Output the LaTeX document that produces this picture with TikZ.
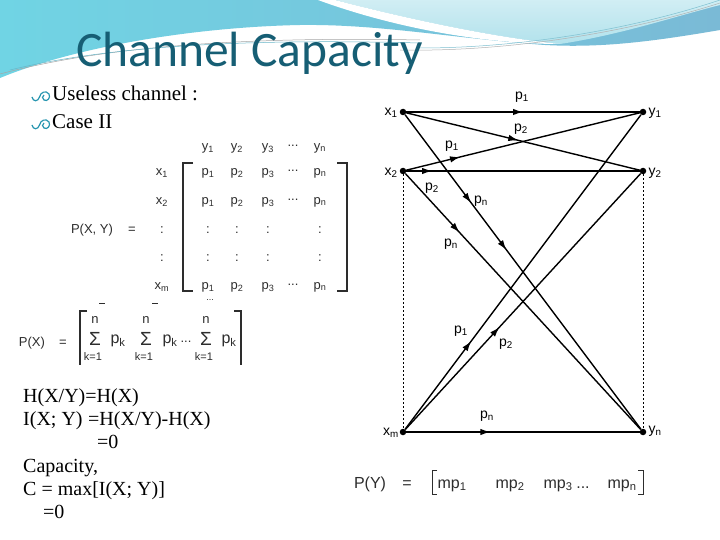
\documentclass[tikz,border=0pt]{standalone}
\usepackage{fontspec}
\setmainfont{Liberation Serif}
\newfontfamily\titolofont{Carlito}
\newfontfamily\grafofont{Liberation Sans}
\usetikzlibrary{arrows.meta,decorations.markings}

\definecolor{titolo}{RGB}{22,94,116}
\definecolor{ondablu}{RGB}{122,186,214}
\definecolor{ondaciano}{RGB}{112,212,228}
\definecolor{ondachiara}{RGB}{178,226,236}
\definecolor{simbolo}{RGB}{40,150,176}
\definecolor{grigiotesto}{RGB}{45,45,45}

\tikzset{
  freccia/.style={postaction={decorate},decoration={markings,
    mark=at position #1 with {\arrow{Latex[length=10pt,width=6.5pt]}}}},
  doppiafreccia/.style 2 args={postaction={decorate},decoration={markings,
    mark=at position #1 with {\arrow{Latex[length=10pt,width=6.5pt]}},
    mark=at position #2 with {\arrow{Latex[length=10pt,width=6.5pt]}}}}
}

\begin{document}
\begin{tikzpicture}[x=1pt,y=-1pt]

        % Stili del disegno
        \tikzstyle{punto}=[circle,fill=black,inner sep=0pt,minimum size=6.5pt]
        \tikzstyle{canale}=[line width=1.4pt]
        \tikzstyle{tratteggio}=[line width=0.7pt,dash pattern=on 2pt off 2pt]
        \tikzstyle{etichetta}=[font=\grafofont\fontsize{14}{16}\selectfont,inner sep=0pt]
        \tikzstyle{voce}=[font=\grafofont\fontsize{13}{15}\selectfont,text=grigiotesto,inner sep=0pt]
        \tikzstyle{somma}=[font=\grafofont\fontsize{16}{18}\selectfont,text=grigiotesto,inner sep=0pt]
        \tikzstyle{sigma}=[font=\grafofont\fontsize{19}{20}\selectfont,text=grigiotesto,inner sep=0pt]
        \tikzstyle{riga}=[font=\grafofont\fontsize{16}{19}\selectfont,text=grigiotesto,inner sep=0pt,anchor=base]
        \tikzstyle{testo}=[font=\fontsize{20}{24}\selectfont,anchor=base west,inner sep=0pt]
        \tikzstyle{parentesi}=[line width=1.3pt,grigiotesto]

        \useasboundingbox (0,0) rectangle (720,540);
        \fill[white] (0,0) rectangle (720,540);

        % Onde dell'intestazione
        \shade[left color=ondaciano,right color=ondablu] (0,0) -- (720,0) -- (720,30)
            .. controls (650,42) and (600,48) .. (545,45)
            .. controls (450,38) and (380,24) .. (300,25)
            .. controls (200,27) and (80,45) .. (0,78) -- cycle;
        \shade[top color=ondachiara!60!white,bottom color=ondachiara] (335,0)
            .. controls (420,22) and (500,38) .. (560,44)
            .. controls (620,35) and (680,15) .. (720,5) -- (720,0) -- cycle;
        \fill[white] (318,0) -- (335,0) .. controls (420,22) and (500,38) .. (560,44)
            .. controls (490,44) and (400,30) .. (318,0) -- cycle;
        \draw[black!35,line width=0.5pt] (0,74) .. controls (90,50) and (220,36) .. (420,40);
        \draw[simbolo!70,line width=0.5pt] (10,70) .. controls (100,48) and (230,38) .. (420,43);
        \draw[black!30,line width=0.5pt] (400,50) .. controls (500,52) and (620,35) .. (720,3);
        \draw[simbolo!60,line width=0.5pt] (420,48) .. controls (520,48) and (630,30) .. (720,0);

        % Titolo
        \node[font=\titolofont\fontsize{49.5}{56}\selectfont,text=titolo,anchor=base west,inner sep=0pt]
            (titolo) at (76,67) {Channel Capacity};

        % Elenco puntato
        \draw[simbolo,line width=1.2pt,shift={(32,95)}] (0,2) .. controls (1,7) and (6,7) .. (7.5,2)
            .. controls (8.5,-3) and (14,-5) .. (17,-1) .. controls (19,3) and (15,7) .. (12,5)
            .. controls (10,4) and (10,1) .. (12,0);
        \draw[simbolo,line width=1.2pt,shift={(32,123)}] (0,2) .. controls (1,7) and (6,7) .. (7.5,2)
            .. controls (8.5,-3) and (14,-5) .. (17,-1) .. controls (19,3) and (15,7) .. (12,5)
            .. controls (10,4) and (10,1) .. (12,0);
        \node[testo,font=\fontsize{21}{25}\selectfont] (inutile) at (52,101) {Useless channel :};
        \node[testo,font=\fontsize{21}{25}\selectfont] (caso) at (52,129) {Case II};

        % Matrice P(X, Y)
        \node[voce] (pxy) at (92,230) {P(X, Y)};
        \node[voce] (uguale1) at (132,230) {=};
        \node[voce] (cy1) at (208,148) {y\textsubscript{1}};
        \node[voce] (cy2) at (237,148) {y\textsubscript{2}};
        \node[voce] (cy3) at (268,148) {y\textsubscript{3}};
        \node[voce] (cyd) at (293,146) {...};
        \node[voce] (cyn) at (320,148) {y\textsubscript{n}};
        \node[voce] (rx1) at (162,173) {x\textsubscript{1}};
        \node[voce] (rx2) at (162,202) {x\textsubscript{2}};
        \node[voce] (rd1) at (162,230) {:};
        \node[voce] (rd2) at (162,258) {:};
        \node[voce] (rxm) at (162,287) {x\textsubscript{m}};
        \node[voce] (a11) at (208,173) {p\textsubscript{1}};
        \node[voce] (a12) at (237,173) {p\textsubscript{2}};
        \node[voce] (a13) at (268,173) {p\textsubscript{3}};
        \node[voce] (a1d) at (293,171) {...};
        \node[voce] (a1n) at (320,173) {p\textsubscript{n}};
        \node[voce] (a21) at (208,202) {p\textsubscript{1}};
        \node[voce] (a22) at (237,202) {p\textsubscript{2}};
        \node[voce] (a23) at (268,202) {p\textsubscript{3}};
        \node[voce] (a2d) at (293,200) {...};
        \node[voce] (a2n) at (320,202) {p\textsubscript{n}};
        \node[voce] (a31) at (208,230) {:};
        \node[voce] (a32) at (237,230) {:};
        \node[voce] (a33) at (268,230) {:};
        \node[voce] (a3n) at (320,230) {:};
        \node[voce] (a41) at (208,258) {:};
        \node[voce] (a42) at (237,258) {:};
        \node[voce] (a43) at (268,258) {:};
        \node[voce] (a4n) at (320,258) {:};
        \node[voce] (am1) at (208,287) {p\textsubscript{1}};
        \node[voce] (am2) at (237,287) {p\textsubscript{2}};
        \node[voce] (am3) at (268,287) {p\textsubscript{3}};
        \node[voce] (amd) at (293,285) {...};
        \node[voce] (amn) at (320,287) {p\textsubscript{n}};
        \draw[parentesi] (193,163) -- (183,163) -- (183,291) -- (193,291);
        \draw[parentesi] (337,163) -- (347,163) -- (347,291) -- (337,291);

        % Riga P(X)
        \draw[parentesi,line width=1pt] (99,303) -- (105,303);
        \draw[parentesi,line width=1pt] (152,303) -- (158,303);
        \node[voce,font=\grafofont\fontsize{9}{9}\selectfont] (tagliato) at (210,300) {...};
        \node[voce] (px) at (32,343) {P(X)};
        \node[voce] (uguale2) at (63,343) {=};
        \node[voce] (n1) at (95,320) {n};
        \node[sigma] (s1) at (95,339) {Σ};
        \node[voce,font=\grafofont\fontsize{11}{12}\selectfont] (k1) at (93,357) {k=1};
        \node[somma] (pk1) at (118,341) {p\textsubscript{k}};
        \node[voce] (n2) at (146,320) {n};
        \node[sigma] (s2) at (146,339) {Σ};
        \node[voce,font=\grafofont\fontsize{11}{12}\selectfont] (k2) at (144,357) {k=1};
        \node[somma] (pk2) at (170,341) {p\textsubscript{k}};
        \node[voce] (puntini) at (186,342) {...};
        \node[voce] (n3) at (206,320) {n};
        \node[sigma] (s3) at (206,339) {Σ};
        \node[voce,font=\grafofont\fontsize{11}{12}\selectfont] (k3) at (204,357) {k=1};
        \node[somma] (pk3) at (229,341) {p\textsubscript{k}};
        \draw[parentesi] (87,311) -- (80,311) -- (80,365);
        \draw[parentesi] (234,311) -- (241,311) -- (241,365);

        % Grafo del canale
        \node[punto] (x1) at (403,112) {};
        \node[punto] (y1) at (643,112) {};
        \node[punto] (x2) at (403,171) {};
        \node[punto] (y2) at (643,171) {};
        \node[punto] (xm) at (403,432) {};
        \node[punto] (yn) at (643,432) {};

        \draw[tratteggio] (x2) -- (xm);
        \draw[tratteggio] (y2) -- (yn);

        \draw[canale,freccia=0.5] (x1) -- (y1);
        \draw[canale,freccia=0.48] (x1) -- (y2);
        \draw[canale,freccia=0.23] (x2) -- (y1);
        \draw[canale,freccia=0.11] (x2) -- (y2);
        \draw[canale,doppiafreccia={0.28}{0.43}] (x1) -- (yn);
        \draw[canale,freccia=0.23] (x2) -- (yn);
        \draw[canale,freccia=0.28] (xm) -- (y1);
        \draw[canale,freccia=0.4] (xm) -- (y2);
        \draw[canale,freccia=0.36] (xm) -- (yn);

        % Nomi dei simboli
        \node[etichetta] (lx1) at (391,113) {x\textsubscript{1}};
        \node[etichetta] (ly1) at (655,113) {y\textsubscript{1}};
        \node[etichetta] (lx2) at (391,173) {x\textsubscript{2}};
        \node[etichetta] (ly2) at (655,173) {y\textsubscript{2}};
        \node[etichetta] (lxm) at (391,433) {x\textsubscript{m}};
        \node[etichetta] (lyn) at (655,431) {y\textsubscript{n}};

        % Probabilita' sui rami
        \node[etichetta] (q11) at (522,97) {p\textsubscript{1}};
        \node[etichetta] (q12) at (521,129) {p\textsubscript{2}};
        \node[etichetta] (q21) at (452,146) {p\textsubscript{1}};
        \node[etichetta] (q22) at (432,188) {p\textsubscript{2}};
        \node[etichetta] (q1n) at (481,201) {p\textsubscript{n}};
        \node[etichetta] (q2n) at (451,244) {p\textsubscript{n}};
        \node[etichetta] (qm1) at (461,331) {p\textsubscript{1}};
        \node[etichetta] (qm2) at (506,344) {p\textsubscript{2}};
        \node[etichetta] (qmn) at (487,416) {p\textsubscript{n}};

        % Riga P(Y)
        \node[riga] (py) at (370,488) {P(Y)};
        \node[riga] (uguale3) at (407,488) {=};
        \node[riga] (mp1) at (452,488) {mp\textsubscript{1}};
        \node[riga] (mp2) at (510,488) {mp\textsubscript{2}};
        \node[riga] (mp3) at (558,488) {mp\textsubscript{3}};
        \node[riga] (mpd) at (583,488) {...};
        \node[riga] (mpn) at (622,488) {mp\textsubscript{n}};
        \draw[parentesi,line width=1pt] (437,470) -- (432,470) -- (432,494) -- (437,494);
        \draw[parentesi,line width=1pt] (638,470) -- (643,470) -- (643,494) -- (638,494);

        % Calcolo della capacita'
        \node[testo] (riga1) at (23,402) {H(X/Y)=H(X)};
        \node[testo] (riga2) at (23,425) {I(X; Y)};
        \node[testo] (riga2b) at (88,425) {=H(X/Y)-H(X)};
        \node[testo] (riga3) at (97,448) {=0};
        \node[testo] (riga4) at (23,472) {Capacity,};
        \node[testo] (riga5) at (23,495) {C = max[I(X; Y)]};
        \node[testo] (riga6) at (43,518) {=0};

\end{tikzpicture}
\end{document}
